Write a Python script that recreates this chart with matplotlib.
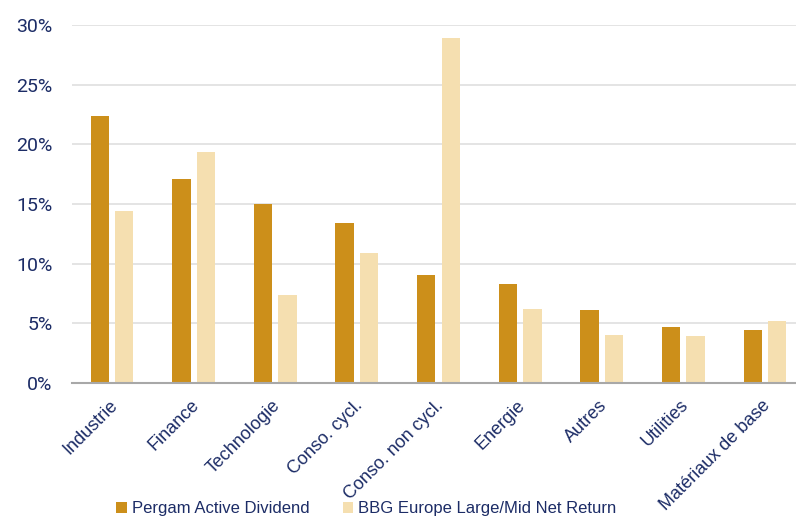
import numpy as np
import matplotlib
matplotlib.use("Agg")
import matplotlib.pyplot as plt
from matplotlib.ticker import FuncFormatter

categories = ["Industrie", "Finance", "Technologie", "Conso. cycl.", "Conso. non cycl.",
              "Energie", "Autres", "Utilities", "Matériaux de base"]
pergam = [22.4, 17.1, 15.0, 13.4, 9.0, 8.3, 6.1, 4.65, 4.4]
bbg = [14.4, 19.4, 7.35, 10.9, 28.9, 6.2, 4.0, 3.9, 5.2]
series_names = ["Pergam Active Dividend", "BBG Europe Large/Mid Net Return"]

dark = "#CC8F1A"
light = "#F5DFB0"
navy = "#1C2C66"

fig = plt.figure(figsize=(7.96, 5.25), dpi=100)
ax = fig.add_axes([0.0905, 0.271, 0.9095, 0.681])

x = np.arange(len(categories))
w = 0.225
b1 = ax.bar(x - 0.15, pergam, w, color=dark, label=series_names[0], zorder=3)
b2 = ax.bar(x + 0.15, bbg, w, color=light, label=series_names[1], zorder=3)

ax.set_ylim(0, 30)
ax.set_xlim(-0.49, 8.38)
ax.set_yticks(np.arange(0, 31, 5))
ax.yaxis.set_major_formatter(FuncFormatter(lambda v, p: f"{v:.0f}%"))
ax.grid(axis="y", color="#E2E2E2", linewidth=1.3, zorder=0)

for s in ["top", "right", "left"]:
    ax.spines[s].set_visible(False)
ax.spines["bottom"].set_color("#A8A8A8")
ax.spines["bottom"].set_linewidth(1.5)
ax.spines["bottom"].set_zorder(4)

ax.tick_params(axis="y", length=0, pad=14, labelsize=14, labelcolor=navy)
for lab in ax.get_yticklabels():
    lab.set_family("Roboto")
ax.tick_params(axis="x", length=0, pad=10)
ax.set_xticks(x - 0.04)
ax.set_xticklabels(categories, rotation=45, ha="right", rotation_mode="anchor",
                   fontsize=13, color=navy, family="Liberation Sans")

leg = fig.legend(handles=[b1, b2], loc="lower center", bbox_to_anchor=(0.46, -0.012),
                 ncol=2, frameon=False, handlelength=0.62, handleheight=0.62,
                 handletextpad=0.3, columnspacing=2.0,
                 prop={"family": "Liberation Sans", "size": 12})
for t in leg.get_texts():
    t.set_color(navy)

fig.savefig("out.png", dpi=100)
